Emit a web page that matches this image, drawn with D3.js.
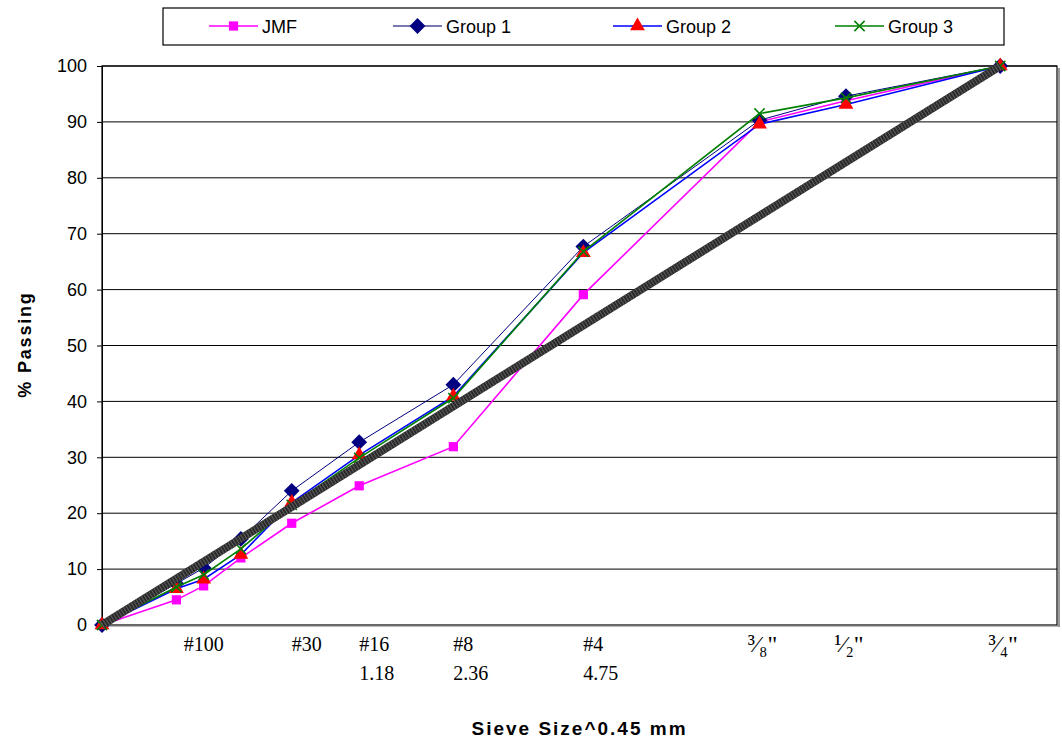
<!DOCTYPE html>
<html>
<head>
<meta charset="utf-8">
<script src="https://cdn.jsdelivr.net/npm/d3@7"></script>
<style>
  html, body { margin: 0; padding: 0; background: #fff; }
  svg { display: block; }
  text { font-family: "Liberation Sans", Arial, sans-serif; }
  .serif { font-family: "Liberation Serif", "Times New Roman", "DejaVu Serif", serif; }
</style>
</head>
<body>
<svg id="chart" width="1062" height="750"></svg>
<script>
// Sieve openings (mm); x position is size^0.45
const sieveMM = [0, 0.075, 0.15, 0.3, 0.6, 1.18, 2.36, 4.75, 9.5, 12.5, 19];

// % passing for each gradation
const jmf    = [0, 4.5, 7.0, 12.0, 18.2, 24.9, 31.9, 59.1, 90.0, 93.8, 100];
const group1 = [0, 7.4, 10.2, 15.4, 24.0, 32.7, 43.0, 67.7, 90.3, 94.6, 100];
const group2 = [0, 6.5, 8.2, 12.6, 21.9, 30.4, 40.9, 66.6, 89.6, 93.1, 100];
const group3 = [0, 6.8, 9.0, 13.6, 21.5, 29.9, 40.6, 66.8, 91.5, 94.3, 100];

// Maximum density line end points
const maxDensityMM = [0, 19];
const maxDensityPass = [0, 100];

// Axis tick labels
const yTicks = [0, 10, 20, 30, 40, 50, 60, 70, 80, 90, 100];
const xLabelMM     = [0.15, 0.6, 1.18, 2.36, 4.75];
const xLabelTop    = ["#100", "#30", "#16", "#8", "#4"];
const xLabelBottom = ["", "", "1.18", "2.36", "4.75"];
const xLabelAnchor = ["middle", "start", "start", "start", "start"];
const fracMM    = [9.5, 12.5, 19];
const fracLabel = ["\u00B3\u2044\u2088\"", "\u00B9\u2044\u2082\"", "\u00B3\u2044\u2084\""];

const seriesNames = ["JMF", "Group 1", "Group 2", "Group 3"];

const svg = d3.select("#chart");
const plotLeft = 102, plotRight = 1057, plotTop = 66, plotBottom = 625;

const x = d3.scaleLinear().domain([0, 4]).range([plotLeft, plotRight]);
const y = d3.scaleLinear().domain([0, 100]).range([plotBottom, plotTop]);
const px = mm => x(Math.pow(mm, 0.45));

// gridlines
svg.append("g").selectAll("line").data(yTicks.filter(d => d > 0)).join("line")
  .attr("x1", plotLeft).attr("x2", plotRight)
  .attr("y1", d => y(d)).attr("y2", d => y(d))
  .attr("stroke", "#000").attr("stroke-width", 1);

// plot frame with a light shadow on the right
svg.append("line").attr("x1", plotRight + 2).attr("x2", plotRight + 2)
  .attr("y1", plotTop + 2).attr("y2", plotBottom + 2)
  .attr("stroke", "#9a9a9a").attr("stroke-width", 2);
svg.append("rect").attr("x", plotLeft).attr("y", plotTop)
  .attr("width", plotRight - plotLeft).attr("height", plotBottom - plotTop)
  .attr("fill", "none").attr("stroke", "#000").attr("stroke-width", 1.2);
svg.append("line").attr("x1", plotLeft).attr("x2", plotRight + 2)
  .attr("y1", plotBottom + 1).attr("y2", plotBottom + 1)
  .attr("stroke", "#777").attr("stroke-width", 1);

// y axis
const yAxis = d3.axisLeft(y).tickValues(yTicks).tickSize(5).tickPadding(10);
const yg = svg.append("g").attr("transform", `translate(${plotLeft},0)`).call(yAxis);
yg.select(".domain").attr("stroke", "#000");
yg.selectAll(".tick line").attr("stroke", "#000");
yg.selectAll(".tick text")
  .style("font-family", "\"Liberation Sans\", Arial, sans-serif")
  .style("font-size", "18px").attr("fill", "#000");

svg.append("text")
  .attr("transform", `translate(31,${(plotTop + plotBottom) / 2 - 1}) rotate(-90)`)
  .attr("text-anchor", "middle")
  .style("font-size", "18px").style("font-weight", "bold")
  .style("letter-spacing", "1.8px")
  .text("% Passing");

// x labels (sieve names)
const xl = svg.append("g");
xLabelMM.forEach((mm, i) => {
  xl.append("text").attr("class", "serif")
    .attr("x", px(mm)).attr("y", 651)
    .attr("text-anchor", xLabelAnchor[i])
    .style("font-size", "20px").text(xLabelTop[i]);
  if (xLabelBottom[i]) {
    xl.append("text").attr("class", "serif")
      .attr("x", px(mm)).attr("y", 680)
      .attr("text-anchor", xLabelAnchor[i])
      .style("font-size", "20px").text(xLabelBottom[i]);
  }
});
fracMM.forEach((mm, i) => {
  xl.append("text").attr("class", "serif")
    .attr("x", px(mm) + 3).attr("y", 652)
    .attr("text-anchor", "middle")
    .style("font-size", "24px")
    .text(fracLabel[i]);
});

svg.append("text")
  .attr("x", (plotLeft + plotRight) / 2).attr("y", 735)
  .attr("text-anchor", "middle")
  .style("font-size", "19px").style("font-weight", "bold")
  .style("letter-spacing", "2px")
  .text("Sieve Size^0.45 mm");

// marker shapes
const sym = {
  square: d3.symbol(d3.symbolSquare, 85),
  diamond: d3.symbol(d3.symbolSquare, 125),
  triangle: d3.symbol(d3.symbolTriangle, 95),
  cross: d3.symbol(d3.symbolX, 70)
};

const series = [
  { name: seriesNames[0], values: jmf,    line: "#ff00ff", lw: 1.6, mark: "square",   fill: "#ff00ff" },
  { name: seriesNames[1], values: group1, line: "#000080", lw: 1.0, mark: "diamond",  fill: "#000080" },
  { name: seriesNames[2], values: group2, line: "#0000ff", lw: 1.6, mark: "triangle", fill: "#ff0000" },
  { name: seriesNames[3], values: group3, line: "#008000", lw: 1.6, mark: "cross",    fill: "#008000" }
];

const lineGen = d3.line().x(d => px(d[0])).y(d => y(d[1]));

function drawMarker(sel, s) {
  sel.attr("d", sym[s.mark]())
    .attr("fill", s.mark === "cross" ? "none" : s.fill)
    .attr("stroke", s.mark === "cross" ? s.fill : "none")
    .attr("stroke-width", s.mark === "cross" ? 1.5 : 0);
}
const rot = s => (s.mark === "diamond" ? " rotate(45)" : "");

series.forEach(s => {
  const pts = sieveMM.map((mm, i) => [mm, s.values[i]]);
  svg.append("path").datum(pts).attr("d", lineGen)
    .attr("fill", "none").attr("stroke", s.line).attr("stroke-width", s.lw);
  svg.append("g").selectAll("path").data(pts).join("path")
    .attr("transform", d => `translate(${px(d[0])},${y(d[1])})${rot(s)}`)
    .call(drawMarker, s);
});

// maximum density line, drawn on top with a hatched texture
const mdPts = maxDensityMM.map((mm, i) => [mm, maxDensityPass[i]]);
svg.append("path").datum(mdPts).attr("d", lineGen)
  .attr("fill", "none").attr("stroke", "#2a2a2a").attr("stroke-width", 8);
svg.append("path").datum(mdPts).attr("d", lineGen)
  .attr("fill", "none").attr("stroke", "#5e5e5e").attr("stroke-width", 8)
  .attr("stroke-dasharray", "1 2");

// legend
const lg = svg.append("g");
lg.append("rect").attr("x", 163).attr("y", 8).attr("width", 841).attr("height", 37)
  .attr("fill", "#fff").attr("stroke", "#000").attr("stroke-width", 1.2);
const legX = [209, 393, 613, 835];
const legLineColor = ["#ff00ff", "#4d4d99", "#0000ff", "#008000"];
series.forEach((s, i) => {
  const g = lg.append("g").attr("transform", `translate(${legX[i]},26)`);
  g.append("line").attr("x1", 0).attr("x2", 49).attr("y1", 0).attr("y2", 0)
    .attr("stroke", legLineColor[i]).attr("stroke-width", 1.6);
  g.append("path").attr("transform", `translate(24.5,0)${rot(s)}`).call(drawMarker, s);
  g.append("text").attr("x", 53).attr("y", 6.5)
    .style("font-size", "18px").text(s.name);
});
</script>
</body>
</html>
